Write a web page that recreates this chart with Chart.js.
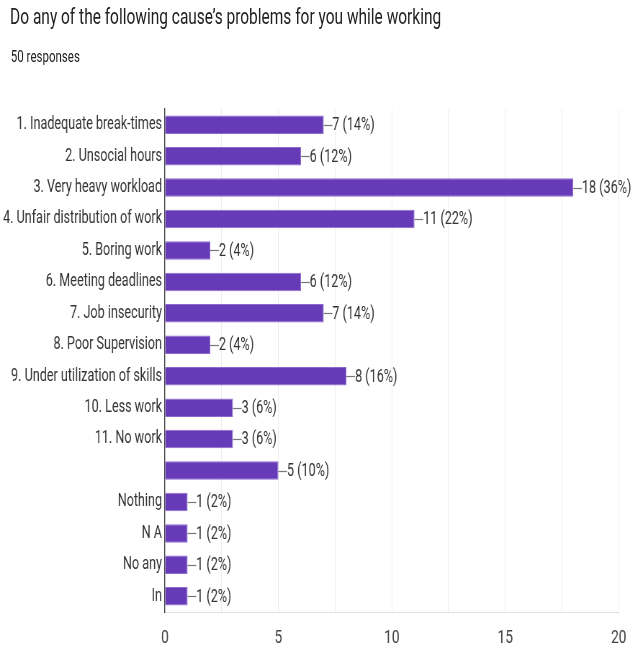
<!DOCTYPE html>
<html>
<head>
<meta charset="utf-8">
<script src="https://cdn.jsdelivr.net/npm/chart.js@4.4.1/dist/chart.umd.min.js"></script>
<style>
  html, body { margin: 0; padding: 0; background: #fff; }
  body { width: 637px; height: 652px; position: relative; overflow: hidden; font-family: "Roboto", sans-serif; }
  #wrap { position: absolute; left: 0; top: 0; width: 885px; height: 652px; transform: scaleX(0.72); transform-origin: 0 0; }
  #title { position: absolute; left: 14px; top: 5px; font-size: 21.5px; line-height: 24px; color: #202124; white-space: nowrap; }
  #sub { position: absolute; left: 15px; top: 47px; font-size: 16px; line-height: 20px; color: #202124; white-space: nowrap; }
  canvas { position: absolute; left: 0; top: 0; }
</style>
</head>
<body>
<div id="wrap">
  <div id="title">Do any of the following cause’s problems for you while working</div>
  <div id="sub">50 responses</div>
  <canvas id="c" width="885" height="652"></canvas>
</div>
<script>
const categories = [
  "1. Inadequate break-times",
  "2. Unsocial hours",
  "3. Very heavy workload",
  "4. Unfair distribution of work",
  "5. Boring work",
  "6. Meeting deadlines",
  "7. Job insecurity",
  "8. Poor Supervision",
  "9. Under utilization of skills",
  "10. Less work",
  "11. No work",
  "",
  "Nothing",
  "N A",
  "No any",
  "In"
];
const counts = [7, 6, 18, 11, 2, 6, 7, 2, 8, 3, 3, 5, 1, 1, 1, 1];
const totalResponses = 50;
const xTickLabels = ["0", "5", "10", "15", "20"];

const FONT = '"Roboto", sans-serif';

const valueLabels = {
  id: 'valueLabels',
  afterDatasetsDraw(chart) {
    const ctx = chart.ctx;
    const meta = chart.getDatasetMeta(0);
    ctx.save();
    ctx.font = '17.5px ' + FONT;
    ctx.textBaseline = 'middle';
    ctx.textAlign = 'left';
    meta.data.forEach((bar, i) => {
      const v = counts[i];
      const pct = Math.round(v / totalResponses * 100);
      const x = bar.x, y = bar.y;
      ctx.strokeStyle = '#777';
      ctx.lineWidth = 1.2;
      ctx.beginPath();
      ctx.moveTo(x, Math.round(y) + 0.5);
      ctx.lineTo(x + 12, Math.round(y) + 0.5);
      ctx.stroke();
      ctx.fillStyle = '#333';
      ctx.fillText(v + ' (' + pct + '%)', x + 12, y + 1);
    });
    ctx.restore();
  }
};

new Chart(document.getElementById('c'), {
  type: 'bar',
  data: {
    labels: categories,
    datasets: [{
      data: counts,
      backgroundColor: '#673ab7',
      borderColor: '#8c6bd1',
      borderWidth: 1,
      categoryPercentage: 1,
      barPercentage: 0.59
    }]
  },
  options: {
    indexAxis: 'y',
    responsive: false,
    animation: false,
    devicePixelRatio: 1,
    layout: { padding: { top: 109, right: 24, bottom: 0, left: 0 } },
    plugins: { legend: { display: false }, tooltip: { enabled: false } },
    scales: {
      x: {
        min: 0, max: 20,
        afterFit: (scale) => { scale.height = 40; },
        ticks: {
          stepSize: 2.5,
          autoSkip: false,
          maxRotation: 0,
          color: '#444',
          font: { family: FONT, size: 19 },
          padding: 15,
          callback: (v) => (v % 5 === 0 ? xTickLabels[v / 5] : '')
        },
        grid: { color: '#ebebeb', drawTicks: false },
        border: { color: '#e0e0e0' }
      },
      y: {
        afterFit: (scale) => { scale.width = 229; },
        ticks: { color: '#333', font: { family: FONT, size: 17.5 }, padding: 4, autoSkip: false },
        grid: { display: false, drawTicks: false },
        border: { color: '#444', width: 1.3 }
      }
    }
  },
  plugins: [valueLabels]
});
</script>
</body>
</html>
